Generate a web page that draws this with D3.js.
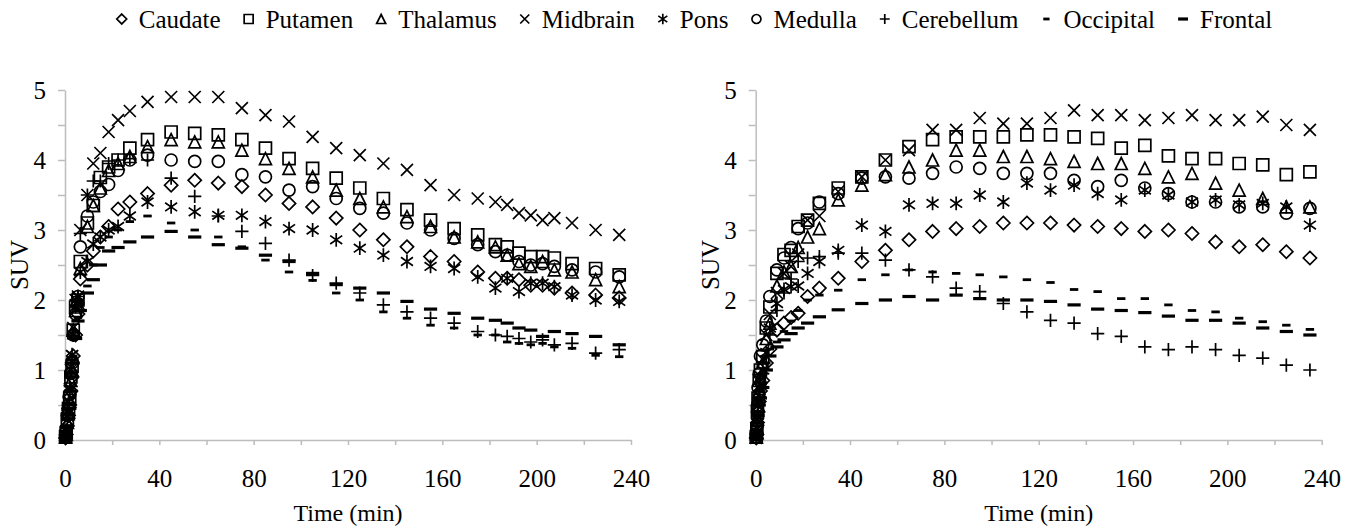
<!DOCTYPE html>
<html lang="en">
<head>
<meta charset="utf-8">
<title>SUV time-activity curves</title>
<script src="https://cdn.jsdelivr.net/npm/d3@7"></script>
<style>
  body { margin: 0; background: #fff; }
  svg { display: block; }
  text { font-family: "Times New Roman", "Liberation Serif", "DejaVu Serif", serif; fill: #000; }
  .axis path, .axis line { stroke: #bdbdbd; stroke-width: 1.5; }
</style>
</head>
<body>
<script>
// ---- data ----
var seriesNames = ["Caudate", "Putamen", "Thalamus", "Midbrain", "Pons", "Medulla", "Cerebellum", "Occipital", "Frontal"];

// left panel
var timesLeft = [0.25, 0.5, 1, 1.5, 2, 2.5, 3, 3.5, 4.5, 5.5, 6.5, 9.5, 12, 15, 18.5, 22.5, 27.5,
  35, 45, 55, 65, 75, 85, 95, 105,
  115, 125, 135, 145, 155, 165, 175, 182.5, 187.5, 192.5, 197.5, 202.5, 207.5, 215, 225, 235];
var caudateLeft = [0.03, 0.08, 0.2, 0.35, 0.5, 0.7, 0.9, 1.2, 1.5, 1.8, 2.3, 2.5, 2.7, 2.9, 3.05, 3.3, 3.4,
  3.52, 3.64, 3.71, 3.67, 3.62, 3.5, 3.38, 3.33,
  3.17, 3.0, 2.86, 2.76, 2.62, 2.55, 2.4, 2.31, 2.31, 2.29, 2.21, 2.21, 2.17, 2.1, 2.07, 2.03];
var putamenLeft = [0.05, 0.1, 0.3, 0.45, 0.6, 0.9, 1.05, 1.57, 1.9, 2.0, 2.55, 3.1, 3.35, 3.75, 3.9, 4.0, 4.17,
  4.29, 4.4, 4.38, 4.36, 4.29, 4.17, 4.02, 3.88,
  3.74, 3.6, 3.45, 3.29, 3.14, 3.02, 2.93, 2.79, 2.76, 2.67, 2.62, 2.62, 2.6, 2.52, 2.45, 2.36];
var thalamusLeft = [0.04, 0.08, 0.25, 0.4, 0.55, 0.85, 1.0, 1.57, 1.85, 1.95, 2.45, 3.05, 3.35, 3.6, 3.85, 3.95, 4.05,
  4.19, 4.29, 4.26, 4.26, 4.14, 4.02, 3.88, 3.76,
  3.57, 3.45, 3.33, 3.19, 3.05, 2.9, 2.83, 2.76, 2.64, 2.52, 2.48, 2.55, 2.43, 2.4, 2.29, 2.19];
var midbrainLeft = [0.05, 0.12, 0.35, 0.55, 0.7, 1.0, 1.2, 1.6, 2.0, 2.05, 3.0, 3.5, 3.95, 4.1, 4.4, 4.57, 4.7,
  4.83, 4.9, 4.9, 4.9, 4.74, 4.64, 4.55, 4.33,
  4.17, 4.07, 3.95, 3.86, 3.64, 3.5, 3.45, 3.4, 3.36, 3.24, 3.21, 3.14, 3.17, 3.1, 3.0, 2.93];
var ponsLeft = [0.06, 0.14, 0.4, 0.55, 0.75, 1.05, 1.22, 1.5, 1.95, 2.05, 2.4, 2.55, 2.8, 2.9, 3.0, 3.05, 3.2,
  3.4, 3.33, 3.26, 3.21, 3.21, 3.12, 3.02, 3.0,
  2.86, 2.74, 2.64, 2.55, 2.48, 2.45, 2.33, 2.17, 2.31, 2.12, 2.24, 2.24, 2.19, 2.07, 2.0, 1.98];
var medullaLeft = [0.06, 0.12, 0.35, 0.5, 0.65, 0.95, 1.1, 1.5, 1.8, 2.05, 2.76, 3.2, 3.4, 3.55, 3.65, 3.85, 4.0,
  4.07, 4.0, 3.98, 3.98, 3.79, 3.76, 3.57, 3.62,
  3.45, 3.31, 3.24, 3.1, 3.0, 2.88, 2.79, 2.69, 2.64, 2.55, 2.5, 2.52, 2.48, 2.43, 2.4, 2.33];
var cerebellumLeft = [0.05, 0.1, 0.3, 0.45, 0.65, 0.95, 1.15, 1.5, 1.9, 2.05, 2.95, 3.5, 3.7, 3.7, 3.95, 4.0, 4.02,
  4.0, 3.74, 3.48, 3.2, 2.98, 2.81, 2.57, 2.35,
  2.24, 2.1, 1.93, 1.83, 1.74, 1.67, 1.55, 1.5, 1.48, 1.45, 1.4, 1.43, 1.36, 1.38, 1.24, 1.29];
var occipitalLeft = [0.03, 0.08, 0.2, 0.35, 0.5, 0.75, 0.95, 1.2, 1.55, 1.75, 1.95, 2.2, 2.5, 2.75, 2.9, 3.0, 3.12,
  3.2, 3.1, 3.0, 2.9, 2.76, 2.57, 2.4, 2.28,
  2.1, 2.0, 1.83, 1.74, 1.64, 1.6, 1.5, 1.5, 1.4, 1.38, 1.36, 1.38, 1.33, 1.31, 1.21, 1.19];
var frontalLeft = [0.03, 0.07, 0.18, 0.3, 0.45, 0.7, 0.9, 1.1, 1.45, 1.7, 1.85, 2.1, 2.29, 2.5, 2.7, 2.75, 2.83,
  2.9, 2.98, 2.9, 2.79, 2.74, 2.64, 2.55, 2.38,
  2.22, 2.17, 2.1, 1.98, 1.87, 1.81, 1.74, 1.71, 1.67, 1.6, 1.57, 1.48, 1.55, 1.52, 1.48, 1.36];

// right panel
var timesRight = [0.25, 0.5, 0.75, 1, 1.5, 2, 3, 4.5, 6, 9, 12, 15, 18, 22, 27,
  35, 45, 55, 65, 75, 85, 95, 105, 115, 125, 135, 145, 155, 165, 175, 185, 195, 205, 215, 225, 235];
var caudateRight = [0.03, 0.08, 0.25, 0.4, 0.55, 0.7, 0.85, 1.1, 1.3, 1.57, 1.67, 1.75, 1.81, 2.05, 2.17,
  2.31, 2.55, 2.71, 2.86, 2.98, 3.02, 3.05, 3.1, 3.1, 3.1, 3.07, 3.05, 3.02, 2.98, 3.0, 2.95, 2.83, 2.76, 2.79, 2.69, 2.6];
var putamenRight = [0.05, 0.15, 0.4, 0.6, 0.85, 1.0, 1.19, 1.6, 1.9, 2.38, 2.65, 2.71, 3.05, 3.14, 3.38,
  3.6, 3.76, 4.0, 4.19, 4.29, 4.33, 4.33, 4.33, 4.36, 4.36, 4.33, 4.31, 4.17, 4.21, 4.06, 4.02, 4.02, 3.95, 3.93, 3.79, 3.83];
var thalamusRight = [0.04, 0.1, 0.3, 0.5, 0.7, 0.9, 1.1, 1.45, 1.67, 2.2, 2.4, 2.48, 2.75, 2.9, 3.02,
  3.43, 3.64, 3.79, 3.9, 4.0, 4.14, 4.14, 4.05, 4.05, 4.02, 3.98, 3.95, 3.95, 3.88, 3.76, 3.81, 3.67, 3.57, 3.45, 3.33, 3.33];
var midbrainRight = [0.03, 0.1, 0.3, 0.5, 0.75, 0.9, 1.15, 1.5, 1.8, 2.1, 2.38, 2.48, 2.65, 3.14, 3.2,
  3.55, 3.76, 4.0, 4.14, 4.43, 4.43, 4.6, 4.52, 4.52, 4.6, 4.71, 4.64, 4.64, 4.57, 4.6, 4.64, 4.57, 4.57, 4.62, 4.5, 4.43];
var ponsRight = [0.05, 0.12, 0.35, 0.55, 0.75, 0.86, 1.0, 1.25, 1.6, 1.95, 2.15, 2.19, 2.2, 2.38, 2.55,
  2.71, 3.07, 2.98, 3.36, 3.38, 3.38, 3.5, 3.4, 3.67, 3.57, 3.64, 3.52, 3.43, 3.57, 3.5, 3.4, 3.43, 3.36, 3.38, 3.33, 3.07];
var medullaRight = [0.08, 0.2, 0.5, 0.75, 0.95, 1.2, 1.36, 1.7, 2.05, 2.43, 2.6, 2.75, 3.02, 3.1, 3.4,
  3.52, 3.74, 3.76, 3.74, 3.81, 3.9, 3.88, 3.81, 3.81, 3.81, 3.71, 3.62, 3.71, 3.6, 3.52, 3.4, 3.4, 3.33, 3.33, 3.24, 3.31];
var cerebellumRight = [0.05, 0.1, 0.3, 0.5, 0.65, 0.8, 0.95, 1.2, 1.5, 1.85, 2.1, 2.3, 2.55, 2.6, 2.62,
  2.67, 2.67, 2.57, 2.43, 2.33, 2.17, 2.12, 1.95, 1.83, 1.71, 1.67, 1.52, 1.48, 1.33, 1.29, 1.33, 1.29, 1.21, 1.17, 1.07, 1.0];
var occipitalRight = [0.03, 0.08, 0.25, 0.4, 0.55, 0.7, 0.8, 1.1, 1.3, 1.4, 1.55, 1.7, 1.85, 2.0, 2.07,
  2.14, 2.29, 2.36, 2.43, 2.4, 2.38, 2.36, 2.33, 2.29, 2.25, 2.15, 2.12, 2.02, 2.02, 1.93, 1.85, 1.83, 1.74, 1.69, 1.64, 1.58];
var frontalRight = [0.03, 0.08, 0.2, 0.35, 0.5, 0.6, 0.75, 1.0, 1.2, 1.33, 1.43, 1.52, 1.6, 1.67, 1.76,
  1.86, 1.95, 2.0, 2.05, 2.0, 2.07, 2.02, 2.0, 2.0, 1.98, 1.93, 1.87, 1.85, 1.82, 1.77, 1.71, 1.71, 1.67, 1.6, 1.55, 1.5];

var xTicks = [0, 20, 40, 60, 80, 100, 120, 140, 160, 180, 200, 220, 240];
var yTicks = [0, 0.5, 1, 1.5, 2, 2.5, 3, 3.5, 4, 4.5, 5];

// ---- layout ----
var w = 1361, h = 529;
var fontFamily = "'Times New Roman', 'Liberation Serif', 'DejaVu Serif', serif";
var markerKinds = ["diamond", "square", "triangle", "cross", "star", "circle", "plus", "dashShort", "dashLong"];

function markerPath(kind, s) {
    switch (kind) {
        case "diamond":  return "M0," + (-s * 1.1) + "L" + (s * 1.1) + ",0L0," + (s * 1.1) + "L" + (-s * 1.1) + ",0Z";
        case "square":   return "M" + (-s) + "," + (-s) + "h" + (2 * s) + "v" + (2 * s) + "h" + (-2 * s) + "Z";
        case "triangle": return "M0," + (-s) + "L" + s + "," + s + "L" + (-s) + "," + s + "Z";
        case "cross":    return "M" + (-s) + "," + (-s) + "L" + s + "," + s + "M" + s + "," + (-s) + "L" + (-s) + "," + s;
        case "star":     return "M" + (-s) + "," + (-s * 0.7) + "L" + s + "," + (s * 0.7) + "M" + s + "," + (-s * 0.7) + "L" + (-s) + "," + (s * 0.7) + "M0," + (-s * 1.15) + "V" + (s * 1.15);
        case "circle":   return d3.arc()({innerRadius: 0, outerRadius: s, startAngle: 0, endAngle: 2 * Math.PI});
        case "plus":     return "M" + (-s * 1.1) + ",0H" + (s * 1.1) + "M0," + (-s * 1.1) + "V" + (s * 1.1);
        case "dashShort": return "M" + (-s * 0.7) + ",0H" + (s * 0.7);
        case "dashLong":  return "M" + (-s * 1.1) + ",0H" + (s * 1.1);
    }
}
function markerWidth(kind) {
    if (kind === "dashShort") return 2.8;
    if (kind === "dashLong") return 3.2;
    return 1.7;
}

var svg = d3.select("body").append("svg")
    .attr("width", w)
    .attr("height", h);

svg.append("rect").attr("width", w).attr("height", h).attr("fill", "#fff");

var panels = [
    {left: 65, times: timesLeft,
     series: [caudateLeft, putamenLeft, thalamusLeft, midbrainLeft, ponsLeft, medullaLeft, cerebellumLeft, occipitalLeft, frontalLeft]},
    {left: 755.7, times: timesRight,
     series: [caudateRight, putamenRight, thalamusRight, midbrainRight, ponsRight, medullaRight, cerebellumRight, occipitalRight, frontalRight]}
];

var plotW = 566, plotTop = 90, plotBottom = 440;

panels.forEach(function(p) {
    var xScale = d3.scaleLinear().domain([0, 240]).range([p.left, p.left + plotW]);
    var yScale = d3.scaleLinear().domain([0, 5]).range([plotBottom, plotTop]);

    var xAxis = d3.axisBottom(xScale)
        .tickValues(xTicks)
        .tickFormat(function(d) { return d % 40 === 0 ? d : ""; })
        .tickSize(5)
        .tickSizeOuter(0)
        .tickPadding(24);

    var yAxis = d3.axisLeft(yScale)
        .tickValues(yTicks)
        .tickFormat(function(d) { return d % 1 === 0 ? d : ""; })
        .tickSize(7)
        .tickSizeOuter(0)
        .tickPadding(12);

    svg.append("g")
        .attr("class", "axis")
        .attr("transform", "translate(0," + plotBottom + ")")
        .call(xAxis);

    svg.append("g")
        .attr("class", "axis")
        .attr("transform", "translate(" + p.left + ",0)")
        .call(yAxis);

    svg.selectAll(".axis text")
        .attr("font-family", fontFamily)
        .attr("font-size", 25)
        .attr("fill", "#000");

    // markers, drawn in legend order
    p.series.forEach(function(vals, si) {
        var kind = markerKinds[si];
        svg.append("g")
            .selectAll("path")
            .data(vals.map(function(v, i) { return [p.times[i], v]; }))
            .enter()
            .append("path")
            .attr("transform", function(d) {
                return "translate(" + xScale(d[0]) + "," + yScale(d[1]) + ")";
            })
            .attr("d", markerPath(kind, 6))
            .attr("fill", "none")
            .attr("stroke", "#000")
            .attr("stroke-width", markerWidth(kind));
    });

    // axis titles
    svg.append("text")
        .attr("x", p.left + plotW / 2)
        .attr("y", 521)
        .attr("text-anchor", "middle")
        .attr("font-family", fontFamily)
        .attr("font-size", 24)
        .text("Time (min)");

    svg.append("text")
        .attr("transform", "translate(" + (p.left - 37) + "," + ((plotTop + plotBottom) / 2) + ") rotate(-90)")
        .attr("text-anchor", "middle")
        .attr("font-family", fontFamily)
        .attr("font-size", 25)
        .text("SUV");
});

// legend
var legend = svg.append("g");
var lx = 0;
seriesNames.forEach(function(name, i) {
    var g = legend.append("g").attr("transform", "translate(" + lx + ",0)");
    g.append("path")
        .attr("transform", "translate(0,19)")
        .attr("d", markerPath(markerKinds[i], 4.5))
        .attr("fill", "none")
        .attr("stroke", "#000")
        .attr("stroke-width", markerWidth(markerKinds[i]));
    var t = g.append("text")
        .attr("x", 17)
        .attr("y", 28)
        .attr("font-family", fontFamily)
        .attr("font-size", 25)
        .text(name);
    lx += 17 + t.node().getComputedTextLength() + 28;
});
legend.attr("transform", "translate(" + (697 - (lx - 28) / 2) + ",0)");
</script>
</body>
</html>
